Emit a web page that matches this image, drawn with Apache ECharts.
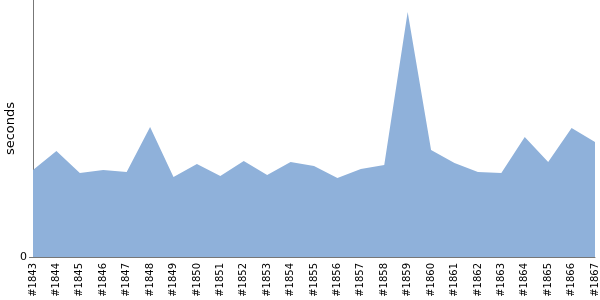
<!DOCTYPE html>
<html>
<head>
<meta charset="utf-8">
<script src="https://cdn.jsdelivr.net/npm/echarts@6/dist/echarts.min.js"></script>
<style>html,body{margin:0;padding:0;background:#fff}#c{width:600px;height:300px}</style>
</head>
<body>
<div id="c"></div>
<script>
const categories = ['#1843','#1844','#1845','#1846','#1847','#1848','#1849','#1850','#1851','#1852','#1853','#1854','#1855','#1856','#1857','#1858','#1859','#1860','#1861','#1862','#1863','#1864','#1865','#1866','#1867'];
const seconds = [87,106,84,87,85,130,80,93,81,96,82,95,91,79,88,92,245,107,94,85,84,120,95,129,115];
const yTicks = [0];
const yMax = 257;

const chart = echarts.init(document.getElementById('c'), null, {renderer: 'canvas'});
chart.setOption({
  animation: false,
  grid: {left: 33, right: 5, top: 0, bottom: 43, containLabel: false, outerBoundsMode: 'none'},
  xAxis: {
    type: 'category',
    data: categories,
    boundaryGap: false,
    axisLine: {lineStyle: {color: '#777', width: 1}},
    axisTick: {show: false},
    axisLabel: {rotate: 90, interval: 0, color: '#000', fontSize: 10, fontFamily: 'DejaVu Sans', margin: 6}
  },
  yAxis: {
    type: 'value',
    min: 0, max: yMax,
    name: 'seconds',
    nameLocation: 'middle',
    nameGap: 16,
    nameMoveOverlap: false,
    nameTextStyle: {color: '#000', fontSize: 13, fontFamily: 'DejaVu Sans'},
    axisLine: {show: true, lineStyle: {color: '#777', width: 1}},
    axisTick: {show: true, length: 4, lineStyle: {color: '#777'}, customValues: yTicks},
    splitLine: {show: false},
    axisLabel: {color: '#000', fontSize: 11, fontFamily: 'DejaVu Sans', margin: 6, customValues: yTicks}
  },
  series: [{
    type: 'line',
    data: seconds,
    symbol: 'none',
    lineStyle: {width: 0},
    areaStyle: {color: '#8fb1da', opacity: 1}
  }]
});
</script>
</body>
</html>
